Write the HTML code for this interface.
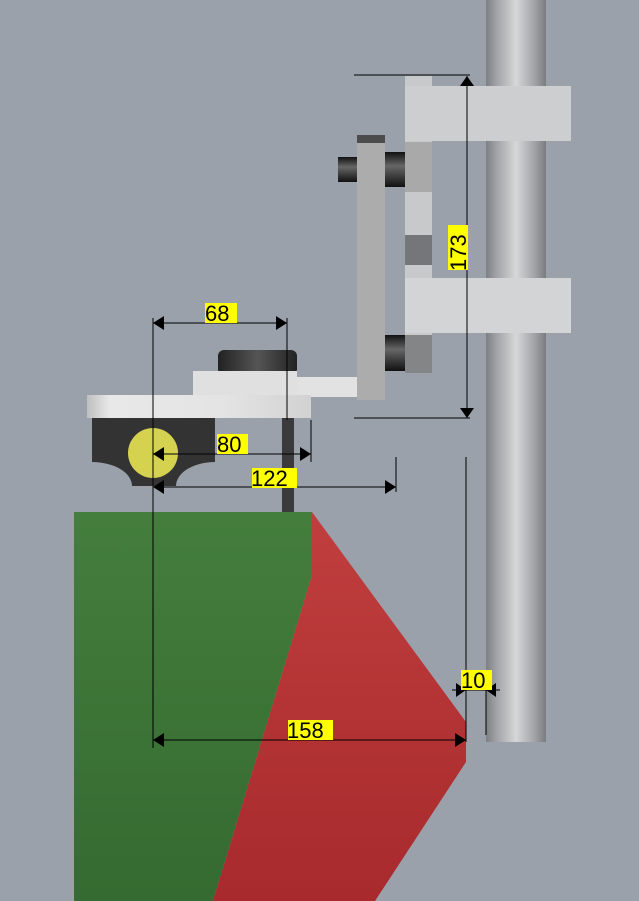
<!DOCTYPE html>
<html><head><style>
html,body{margin:0;padding:0;background:#9aa1aa;}
svg{display:block;}
text{font-family:"Liberation Sans",sans-serif;font-size:22px;fill:#000;}
</style></head><body>
<svg width="639" height="901" viewBox="0 0 639 901" xmlns="http://www.w3.org/2000/svg">
<defs>
<linearGradient id="pole" x1="0" x2="1" y1="0" y2="0">
<stop offset="0" stop-color="#7d7f82"/><stop offset="0.15" stop-color="#9c9ea1"/><stop offset="0.5" stop-color="#d6d7d8"/><stop offset="0.8" stop-color="#a3a5a8"/><stop offset="1" stop-color="#7a7c80"/>
</linearGradient>
<linearGradient id="blk" x1="0" x2="1"><stop offset="0" stop-color="#222"/><stop offset="0.5" stop-color="#555"/><stop offset="1" stop-color="#222"/></linearGradient>
<linearGradient id="pinv" x1="0" x2="0" y1="0" y2="1"><stop offset="0" stop-color="#111"/><stop offset="0.4" stop-color="#666"/><stop offset="1" stop-color="#111"/></linearGradient>
<linearGradient id="plat" x1="0" x2="1"><stop offset="0" stop-color="#bfbfbf"/><stop offset="0.1" stop-color="#e8e8e8"/><stop offset="0.6" stop-color="#e4e4e4"/><stop offset="1" stop-color="#d2d2d2"/></linearGradient>
<linearGradient id="green" x1="0" x2="0" y1="0" y2="1"><stop offset="0" stop-color="#447e3d"/><stop offset="1" stop-color="#356a30"/></linearGradient>
<linearGradient id="red" x1="0" x2="0" y1="0" y2="1"><stop offset="0" stop-color="#c03e3e"/><stop offset="1" stop-color="#a82a2c"/></linearGradient>
</defs>
<rect width="639" height="901" fill="#9aa1aa"/>
<rect x="486" y="0" width="60" height="742" fill="url(#pole)"/>
<rect x="405" y="76" width="27" height="297" fill="#c8c9cb"/>
<rect x="405" y="142" width="27" height="50" fill="#a9a9aa"/>
<rect x="405" y="235" width="27" height="30" fill="#747679"/>
<rect x="405" y="335" width="27" height="38" fill="#848586"/>
<rect x="405" y="86" width="166" height="55" fill="#cdced0"/>
<rect x="405" y="278" width="166" height="55" fill="#d3d4d6"/>
<rect x="357" y="135" width="28" height="265" fill="#acacad"/>
<rect x="357" y="135" width="28" height="8" fill="#4c4c4c"/>
<rect x="338" y="157" width="19" height="25" fill="url(#pinv)"/>
<rect x="385" y="152" width="20" height="35" fill="url(#pinv)"/>
<rect x="385" y="335" width="20" height="36" fill="url(#pinv)"/>
<rect x="297" y="377" width="60" height="20" fill="#e2e2e2"/>
<rect x="218" y="350" width="79" height="25" rx="6" fill="url(#blk)"/>
<rect x="193" y="371" width="104" height="30" fill="#e0e0e0"/>
<rect x="87" y="395" width="224" height="23" fill="url(#plat)"/>
<path d="M92 418 H215 V462 A39 24 0 0 0 176 486 H132 A40 24 0 0 0 92 462 Z" fill="#333"/>
<circle cx="153" cy="453" r="25" fill="#d4d24f"/>
<rect x="282" y="418" width="12" height="94" fill="#3a3a3a"/>
<polygon points="74,512 312,512 312,575 213,901 74,901" fill="url(#green)"/>
<polygon points="312,512 466,722 466,762 375,901 213,901 312,575" fill="url(#red)"/>
<g stroke="#000" stroke-width="1" fill="none">
<line x1="153" y1="318" x2="153" y2="748"/>
<line x1="153" y1="323" x2="287" y2="323"/>
<line x1="287" y1="318" x2="287" y2="420"/>
<line x1="153" y1="454" x2="310" y2="454"/>
<line x1="311" y1="420" x2="311" y2="462"/>
<line x1="153" y1="487" x2="395" y2="487"/>
<line x1="396" y1="457" x2="396" y2="492"/>
<line x1="153" y1="740" x2="466" y2="740"/>
<line x1="466" y1="457" x2="466" y2="742"/>
<line x1="486" y1="683" x2="486" y2="735"/>
<line x1="452" y1="690" x2="500" y2="690"/>
<line x1="467" y1="76" x2="467" y2="414"/>
<line x1="354" y1="75" x2="470" y2="75"/>
<line x1="354" y1="418" x2="470" y2="418"/>
</g>
<g fill="#000">
<polygon points="153,323 164,316 164,330"/><polygon points="287,323 276,316 276,330"/>
<polygon points="153,454 164,447 164,461"/><polygon points="311,454 300,447 300,461"/>
<polygon points="153,487 164,480 164,494"/><polygon points="396,487 385,480 385,494"/>
<polygon points="153,740 164,733 164,747"/><polygon points="466,740 455,733 455,747"/>
<polygon points="466,690 456,683 456,697"/><polygon points="486,690 496,683 496,697"/>
<polygon points="467,76 460,86 474,86"/><polygon points="467,418 460,408 474,408"/>
</g>
<rect x="205" y="303" width="32" height="20" fill="#ffff00"/><text x="205" y="321">68</text>
<rect x="217" y="434" width="31" height="20" fill="#ffff00"/><text x="217" y="452">80</text>
<rect x="252" y="468" width="45" height="20" fill="#ffff00"/><text x="251" y="486">122</text>
<rect x="288" y="720" width="45" height="20" fill="#ffff00"/><text x="287" y="738">158</text>
<rect x="461" y="670" width="31" height="20" fill="#ffff00"/><text x="461" y="688">10</text>
<rect x="448" y="225" width="20" height="45" fill="#ffff00"/>
<text transform="translate(466,271) rotate(-90)">173</text>
</svg>
</body></html>
